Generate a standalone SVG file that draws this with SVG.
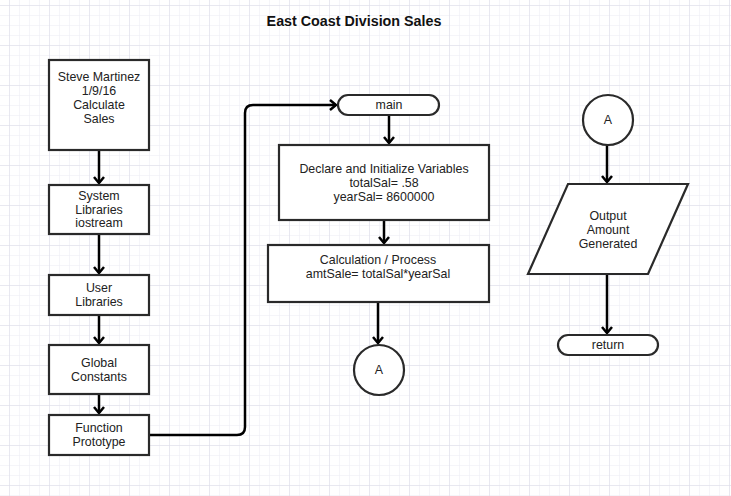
<svg xmlns="http://www.w3.org/2000/svg" width="731" height="496" viewBox="0 0 731 496">
<style>
.n{fill:#ffffff;stroke:#2a2a2a;stroke-width:2.2}
.t{font-family:"Liberation Sans",Arial,sans-serif;font-size:12.4px;fill:#222;text-anchor:middle;dominant-baseline:central}
.c{fill:none;stroke:#000;stroke-width:2.5;stroke-linejoin:round}
.ttl{font-family:"Liberation Sans",Arial,sans-serif;font-size:14.3px;font-weight:bold;fill:#111;text-anchor:middle;dominant-baseline:central}
</style>
<defs>
<pattern id="minor" width="10" height="10" patternUnits="userSpaceOnUse" x="9" y="5">
<path d="M0 0H10M0 0V10" fill="none" stroke="#ececf4" stroke-width="1"/>
</pattern>
<pattern id="major" width="40" height="40" patternUnits="userSpaceOnUse" x="9" y="5">
<path d="M0 0H40M0 0V40" fill="none" stroke="#dcdce8" stroke-width="1"/>
</pattern>
<marker id="arr" markerWidth="12" markerHeight="12" refX="10" refY="6" orient="auto" markerUnits="userSpaceOnUse">
<path d="M4 1L10 6L4 11" fill="none" stroke="#000" stroke-width="2.5"/>
</marker>
</defs>
<rect width="731" height="496" fill="#ffffff"/>
<rect width="731" height="496" fill="url(#minor)"/>
<rect width="731" height="496" fill="url(#major)"/>
<text class="ttl" x="354" y="21">East Coast Division Sales</text>
<g id="connectors">
<path class="c" d="M99 150V183" marker-end="url(#arr)"/>
<path class="c" d="M99 234V273" marker-end="url(#arr)"/>
<path class="c" d="M99 315V343" marker-end="url(#arr)"/>
<path class="c" d="M99 394V413" marker-end="url(#arr)"/>
<path class="c" d="M149 435H237Q245 435 245 427V113Q245 105 253 105H336" marker-end="url(#arr)"/>
<path class="c" d="M389 115V143" marker-end="url(#arr)"/>
<path class="c" d="M384 220V243" marker-end="url(#arr)"/>
<path class="c" d="M378 302V343" marker-end="url(#arr)"/>
<path class="c" d="M607 145V182" marker-end="url(#arr)"/>
<path class="c" d="M607 274V333" marker-end="url(#arr)"/>
</g>
<g id="n1"><rect class="n" x="49" y="60" width="100" height="90"/>
<text class="t" x="99" y="77">Steve Martinez</text><text class="t" x="99" y="91">1/9/16</text><text class="t" x="99" y="105">Calculate</text><text class="t" x="99" y="119">Sales</text></g>
<g id="n2"><rect class="n" x="49" y="185" width="100" height="49"/>
<text class="t" x="99" y="196">System</text><text class="t" x="99" y="210">Libraries</text><text class="t" x="99" y="223">iostream</text></g>
<g id="n3"><rect class="n" x="49" y="275" width="100" height="40"/>
<text class="t" x="99" y="288">User</text><text class="t" x="99" y="302">Libraries</text></g>
<g id="n4"><rect class="n" x="49" y="345" width="100" height="49"/>
<text class="t" x="99" y="363">Global</text><text class="t" x="99" y="377">Constants</text></g>
<g id="n5"><rect class="n" x="49" y="415" width="100" height="40"/>
<text class="t" x="99" y="428">Function</text><text class="t" x="99" y="442">Prototype</text></g>
<g id="main"><rect class="n" x="338" y="95" width="101" height="20" rx="10"/>
<text class="t" x="389" y="105">main</text></g>
<g id="n6"><rect class="n" x="279" y="145" width="210" height="75"/>
<text class="t" x="384" y="169">Declare and Initialize Variables</text><text class="t" x="384" y="183">totalSal= .58</text><text class="t" x="384" y="197">yearSal= 8600000</text></g>
<g id="n7"><rect class="n" x="268" y="245" width="221" height="57"/>
<text class="t" x="378" y="260">Calculation / Process</text><text class="t" x="378" y="274">amtSale= totalSal*yearSal</text></g>
<g id="a1"><circle class="n" cx="379" cy="370" r="25"/><text class="t" x="379" y="370">A</text></g>
<g id="a2"><circle class="n" cx="608" cy="120" r="25"/><text class="t" x="608" y="120">A</text></g>
<g id="out"><polygon class="n" points="568,184 688,184 648,274 528,274"/>
<text class="t" x="608" y="216">Output</text><text class="t" x="608" y="230">Amount</text><text class="t" x="608" y="244">Generated</text></g>
<g id="ret"><rect class="n" x="558" y="335" width="100" height="20" rx="10"/>
<text class="t" x="608" y="345">return</text></g>
</svg>
